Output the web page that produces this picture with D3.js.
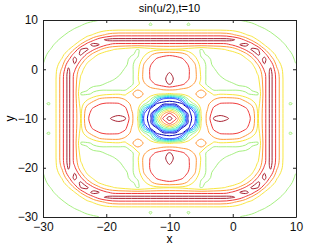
<!DOCTYPE html>
<html>
<head>
<meta charset="utf-8">
<script src="https://cdn.jsdelivr.net/npm/d3@7"></script>
<style>
  body { margin: 0; background: #fff; }
  svg { display: block; font-family: "Liberation Sans", Arial, sans-serif; }
</style>
</head>
<body>
<svg id="chart" width="327" height="246"></svg>
<script>
var title = "sin(u/2),t=10";
var xTicks = [-30, -20, -10, 0, 10];
var yTicks = [-30, -20, -10, 0, 10];
var levels = [-0.9, -0.7, -0.5, -0.3, -0.1, 0.1, 0.3, 0.5, 0.7, 0.9];
var levelColors = ["#0000b3", "#1a2aff", "#2f8cff", "#30dcf5", "#5cf5b0",
                   "#a6f080", "#f8e640", "#ff9a3c", "#f03a3a", "#a82030"];
var centre = [-10, -10];

// field, one octant around the centre (row = distance
// along the nearer axis, column = distance across it, 1 unit steps)
var octant = [
  [1.0],
  [0.75, 0.45],
  [0.1, -0.15, -0.95],
  [-1.0, -1.0, -0.92, -0.1],
  [-0.8, -0.7, -0.35, 0.15, 0.4],
  [0.28, 0.31, 0.36, 0.43, 0.47, 0.65],
  [0.56, 0.54, 0.49, 0.45, 0.42, 0.46, 0.2],
  [0.92, 0.82, 0.74, 0.62, 0.47, 0.25, 0.05, 0.04],
  [0.96, 0.86, 0.8, 0.71, 0.56, 0.28, 0.04, 0.05, 0.08],
  [0.92, 0.85, 0.8, 0.72, 0.57, 0.27, 0.04, 0.07, 0.11, 0.13],
  [0.86, 0.82, 0.79, 0.72, 0.56, 0.25, 0.05, 0.09, 0.14, 0.17, 0.19],
  [0.8, 0.79, 0.77, 0.69, 0.52, 0.2, 0.06, 0.12, 0.17, 0.2, 0.22, 0.22],
  [0.77, 0.76, 0.73, 0.6, 0.4, 0.12, 0.07, 0.13, 0.18, 0.2, 0.21, 0.22, 0.25],
  [0.68, 0.66, 0.6, 0.45, 0.25, 0.08, 0.11, 0.15, 0.19, 0.2, 0.21, 0.26, 0.4, 0.65],
  [0.28, 0.27, 0.25, 0.2, 0.15, 0.09, 0.14, 0.2, 0.25, 0.31, 0.36, 0.52, 0.72, 0.93, 0.92],
  [0.62, 0.62, 0.62, 0.62, 0.62, 0.62, 0.62, 0.62, 0.62, 0.64, 0.74, 0.89, 0.98, 0.81, 0.53, 0.29],
  [0.98, 0.98, 0.98, 0.98, 0.98, 0.98, 0.98, 0.98, 0.98, 0.98, 0.93, 0.83, 0.65, 0.45, 0.28, 0.19, 0.14],
  [0.62, 0.62, 0.62, 0.62, 0.62, 0.62, 0.62, 0.62, 0.62, 0.6, 0.53, 0.42, 0.32, 0.23, 0.16, 0.133, 0.118, 0.085],
  [0.28, 0.28, 0.28, 0.28, 0.28, 0.28, 0.28, 0.28, 0.28, 0.27, 0.25, 0.21, 0.17, 0.14, 0.127, 0.11, 0.083, 0.064, 0.05],
  [0.15, 0.15, 0.15, 0.085, 0.15, 0.15, 0.15, 0.15, 0.15, 0.148, 0.143, 0.134, 0.126, 0.117, 0.095, 0.074, 0.06, 0.048, 0.04, 0.035],
  [0.12, 0.12, 0.12, 0.12, 0.12, 0.12, 0.12, 0.12, 0.12, 0.118, 0.11, 0.102, 0.09, 0.075, 0.065, 0.052, 0.045, 0.04, 0.035, 0.03, 0.03]
];

// mirror the octant into the full square grid
var half = octant.length - 1;
var n = 2 * half + 1;
var values = new Array(n * n);
for (var r = 0; r < n; r++) {
  for (var c = 0; c < n; c++) {
    var a = Math.abs(c - half), b = Math.abs(r - half);
    values[r * n + c] = octant[Math.max(a, b)][Math.min(a, b)];
  }
}

var W = 327, H = 246;
var margin = {top: 20, right: 31, bottom: 29, left: 43};
var svg = d3.select("#chart");

var x = d3.scaleLinear().domain([-30, 10]).range([margin.left, W - margin.right]);
var y = d3.scaleLinear().domain([-30, 10]).range([H - margin.bottom, margin.top]);

svg.append("defs").append("clipPath").attr("id", "clip")
  .append("rect")
    .attr("x", margin.left)
    .attr("y", margin.top)
    .attr("width", W - margin.left - margin.right)
    .attr("height", H - margin.top - margin.bottom);

var contours = d3.contours().size([n, n]).thresholds(levels)(values);

// grid coordinate -> data -> pixel
function gx(c) { return x(centre[0] - half + c - 0.5); }
function gy(r) { return y(centre[1] - half + r - 0.5); }

var line = d3.line()
    .x(function (p) { return gx(p[0]); })
    .y(function (p) { return gy(p[1]); })
    .curve(d3.curveCatmullRomClosed.alpha(0.5));

var g = svg.append("g").attr("clip-path", "url(#clip)");

contours.forEach(function (ct, k) {
  var rings = [];
  ct.coordinates.forEach(function (poly) {
    poly.forEach(function (ring) { rings.push(ring.slice(0, -1)); });
  });
  g.selectAll(null)
    .data(rings)
    .enter().append("path")
      .attr("d", line)
      .attr("fill", "none")
      .attr("stroke", levelColors[k])
      .attr("stroke-width", 1);
});

// axes, MATLAB style: ticks pointing inwards, box all round
function styleAxis(sel) {
  sel.select(".domain").attr("stroke", "#222");
  sel.selectAll(".tick line").attr("stroke", "#222");
  sel.selectAll("text").attr("fill", "#111").style("font-size", "12px")
    .style("font-family", "'Liberation Sans', Arial, sans-serif");
}

svg.append("g")
    .attr("transform", "translate(0," + (H - margin.bottom) + ")")
    .call(d3.axisBottom(x).tickValues(xTicks).tickSizeInner(-3).tickSizeOuter(0).tickPadding(5))
    .call(styleAxis);

svg.append("g")
    .attr("transform", "translate(" + margin.left + ",0)")
    .call(d3.axisLeft(y).tickValues(yTicks).tickSizeInner(-3).tickSizeOuter(0).tickPadding(5))
    .call(styleAxis);

svg.append("g")
    .attr("transform", "translate(0," + margin.top + ")")
    .call(d3.axisTop(x).tickValues(xTicks).tickSizeInner(-3).tickSizeOuter(0).tickFormat(""))
    .call(styleAxis);

svg.append("g")
    .attr("transform", "translate(" + (W - margin.right) + ",0)")
    .call(d3.axisRight(y).tickValues(yTicks).tickSizeInner(-3).tickSizeOuter(0).tickFormat(""))
    .call(styleAxis);

svg.append("text")
    .attr("x", (x.range()[0] + x.range()[1]) / 2)
    .attr("y", 12)
    .attr("text-anchor", "middle")
    .style("font-size", "11px")
    .text(title);

svg.append("text")
    .attr("x", (x.range()[0] + x.range()[1]) / 2)
    .attr("y", 243)
    .attr("text-anchor", "middle")
    .style("font-size", "12px")
    .text("x");

svg.append("text")
    .attr("transform", "translate(14," + ((y.range()[0] + y.range()[1]) / 2) + ") rotate(-90)")
    .attr("text-anchor", "middle")
    .style("font-size", "12px")
    .text("y");
</script>
</body>
</html>
